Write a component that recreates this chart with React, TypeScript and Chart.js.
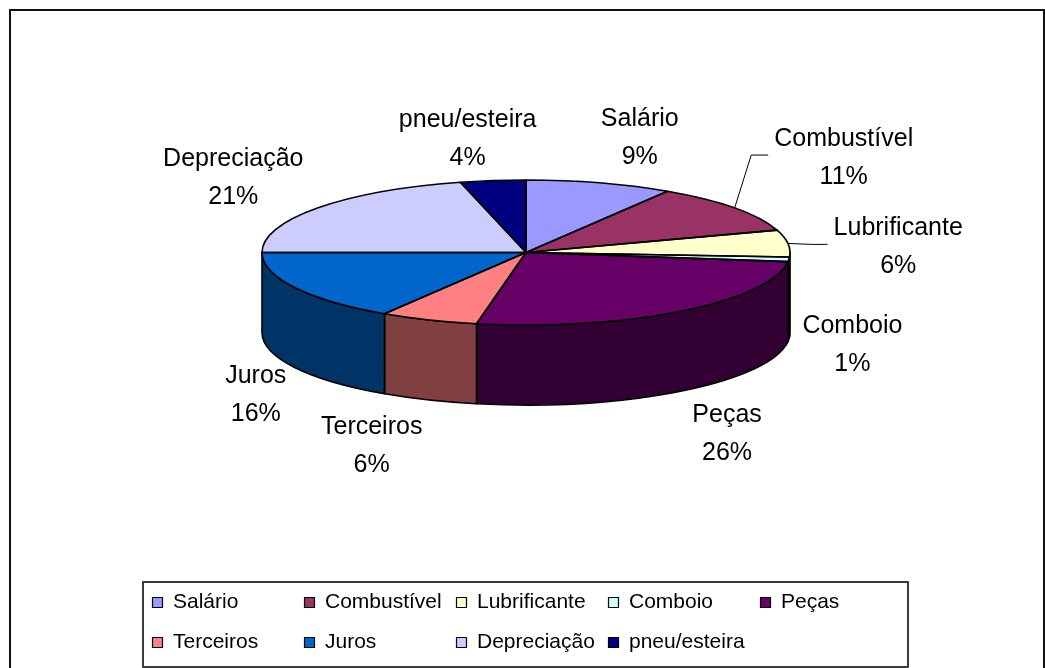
import React, { useEffect, useRef } from "react";
import { Chart, registerables } from "chart.js";

Chart.register(...registerables);

// ---- data ----
const categories = [
  "Salário",
  "Combustível",
  "Lubrificante",
  "Comboio",
  "Peças",
  "Terceiros",
  "Juros",
  "Depreciação",
  "pneu/esteira",
];
const shares = [9, 11, 6, 1, 26, 6, 16, 21, 4];

// ---- styles ----
const topColors = ["#9999FF", "#993366", "#FFFFCC", "#CCFFFF", "#660066", "#FF8080", "#0066CC", "#CCCCFF", "#000080"];
const sideColors = ["#4D4D80", "#4D1A33", "#808066", "#668080", "#330033", "#804040", "#003366", "#666680", "#000040"];
const labelNudges: [number, number][] = [
  [15, 30],
  [38, -3],
  [21, 12],
  [-26, -4],
  [-7, -24],
  [-24, -30],
  [40, -13],
  [-13, 17],
  [-14, 36],
];
const hasLeader = [false, true, true, false, false, false, false, false, false];

const DEPTH = 80;
const FONT = '"Liberation Sans", Arial, Helvetica, sans-serif';
const LABEL_GAP_X = 90;
const LABEL_GAP_Y = 80;

const CANVAS_W = 1032;
const CANVAS_H = 660;

function geom(chart: any) {
  const a = chart.chartArea;
  const cx = (a.left + a.right) / 2;
  const rx = (a.right - a.left) / 2;
  const ry = (a.bottom - a.top - DEPTH) / 2;
  const cy = a.top + ry;
  return { cx, cy, rx, ry };
}

const pie3d = {
  id: "pie3d",
  beforeDatasetsDraw(chart: any) {
    const ctx: CanvasRenderingContext2D = chart.ctx;
    const { cx, cy, rx, ry } = geom(chart);
    const meta = chart.getDatasetMeta(0);
    // side walls (front half only)
    meta.data.forEach((el: any, i: number) => {
      const { startAngle, endAngle } = el.getProps(["startAngle", "endAngle"], true);
      for (const k of [-1, 0, 1]) {
        const lo = Math.max(startAngle, 2 * Math.PI * k);
        const hi = Math.min(endAngle, Math.PI + 2 * Math.PI * k);
        if (hi > lo) {
          ctx.beginPath();
          ctx.ellipse(cx, cy, rx, ry, 0, lo, hi);
          ctx.lineTo(cx + rx * Math.cos(hi), cy + DEPTH + ry * Math.sin(hi));
          ctx.ellipse(cx, cy + DEPTH, rx, ry, 0, hi, lo, true);
          ctx.closePath();
          ctx.fillStyle = sideColors[i];
          ctx.fill();
          ctx.lineWidth = 1.6;
          ctx.strokeStyle = "#000";
          ctx.lineJoin = "round";
          ctx.stroke();
        }
      }
    });
    const el0 = meta.data[0];
    const { x, y, outerRadius } = el0.getProps(["x", "y", "outerRadius"], true);
    ctx.save();
    ctx.translate(cx, cy);
    ctx.scale(rx / outerRadius, ry / outerRadius);
    ctx.translate(-x, -y);
  },
  afterDatasetsDraw(chart: any) {
    const ctx: CanvasRenderingContext2D = chart.ctx;
    ctx.restore();
    const { cx, cy, rx, ry } = geom(chart);
    const meta = chart.getDatasetMeta(0);
    ctx.save();
    ctx.lineWidth = 1.6;
    ctx.strokeStyle = "#000";
    ctx.lineJoin = "round";
    meta.data.forEach((el: any) => {
      const { startAngle, endAngle } = el.getProps(["startAngle", "endAngle"], true);
      ctx.beginPath();
      ctx.moveTo(cx, cy);
      ctx.ellipse(cx, cy, rx, ry, 0, startAngle, endAngle);
      ctx.closePath();
      ctx.stroke();
    });
    ctx.restore();
  },
  afterDraw(chart: any) {
    const ctx: CanvasRenderingContext2D = chart.ctx;
    const { cx, cy, rx, ry } = geom(chart);
    const meta = chart.getDatasetMeta(0);
    const data: number[] = chart.data.datasets[0].data;
    const total = data.reduce((s, v) => s + v, 0);
    ctx.save();
    ctx.font = `25px ${FONT}`;
    ctx.fillStyle = "#000";
    ctx.textAlign = "center";
    ctx.textBaseline = "alphabetic";
    meta.data.forEach((el: any, i: number) => {
      const { startAngle, endAngle } = el.getProps(["startAngle", "endAngle"], true);
      const mid = (startAngle + endAngle) / 2;
      const ux = Math.cos(mid);
      const uy = Math.sin(mid);
      const xc = cx + ux * (rx + LABEL_GAP_X) + labelNudges[i][0];
      const yc = cy + uy * (ry + LABEL_GAP_Y) + (uy > 0 ? DEPTH : 0) + labelNudges[i][1];
      const name = chart.data.labels[i];
      const pct = Math.round((data[i] / total) * 100) + "%";
      ctx.fillText(name, xc, yc - 10);
      ctx.fillText(pct, xc, yc + 28);
      if (hasLeader[i]) {
        const w = ctx.measureText(name).width;
        const left = xc - w / 2;
        const ex = cx + rx * ux;
        const ey = cy + ry * uy;
        ctx.beginPath();
        ctx.moveTo(ex, ey);
        ctx.lineTo(left - 23, yc - 1);
        ctx.lineTo(left - 6, yc - 1);
        ctx.lineWidth = 1;
        ctx.strokeStyle = "#000";
        ctx.stroke();
      }
    });
    ctx.restore();

    // legend
    const L = { left: 132, top: 571, right: 897, bottom: 656 };
    ctx.save();
    ctx.lineWidth = 2;
    ctx.strokeStyle = "#3a3a3a";
    ctx.strokeRect(L.left, L.top, L.right - L.left, L.bottom - L.top);
    ctx.font = `21px ${FONT}`;
    ctx.textAlign = "left";
    ctx.textBaseline = "alphabetic";
    const perRow = 5;
    chart.data.labels.forEach((lab: string, i: number) => {
      const col = i % perRow;
      const row = Math.floor(i / perRow);
      const sx = L.left + 9 + col * 152;
      const sy = L.top + 15 + row * 40;
      ctx.fillStyle = topColors[i];
      ctx.fillRect(sx + 0.5, sy + 0.5, 10, 10);
      ctx.lineWidth = 1.2;
      ctx.strokeStyle = "#000";
      ctx.strokeRect(sx + 0.5, sy + 0.5, 10, 10);
      ctx.fillStyle = "#000";
      ctx.fillText(lab, sx + 21, L.top + 26 + row * 40);
    });
    ctx.restore();
  },
};

export default function App() {
  const canvasRef = useRef<HTMLCanvasElement | null>(null);

  useEffect(() => {
    document.documentElement.style.overflow = "hidden";
    document.body.style.overflow = "hidden";
    const canvas = canvasRef.current;
    if (!canvas) return;
    const chart = new Chart(canvas, {
      type: "pie",
      data: {
        labels: categories,
        datasets: [
          {
            data: shares,
            backgroundColor: topColors,
            borderWidth: 0,
            clip: false,
          } as any,
        ],
      },
      options: {
        responsive: false,
        animation: false,
        events: [],
        layout: {
          padding: { left: 251, right: CANVAS_W - 779, top: 169, bottom: CANVAS_H - 394 },
        },
        plugins: {
          legend: { display: false },
          tooltip: { enabled: false },
          title: { display: false },
        },
      },
      plugins: [pie3d as any],
    });
    return () => chart.destroy();
  }, []);

  return (
    <div
      style={{
        position: "fixed",
        left: 9,
        top: 9,
        width: 1036,
        height: 700,
        boxSizing: "border-box",
        border: "2px solid #111",
        overflow: "hidden",
        background: "#fff",
      }}
    >
      <canvas ref={canvasRef} width={CANVAS_W} height={CANVAS_H} style={{ display: "block" }} />
    </div>
  );
}
